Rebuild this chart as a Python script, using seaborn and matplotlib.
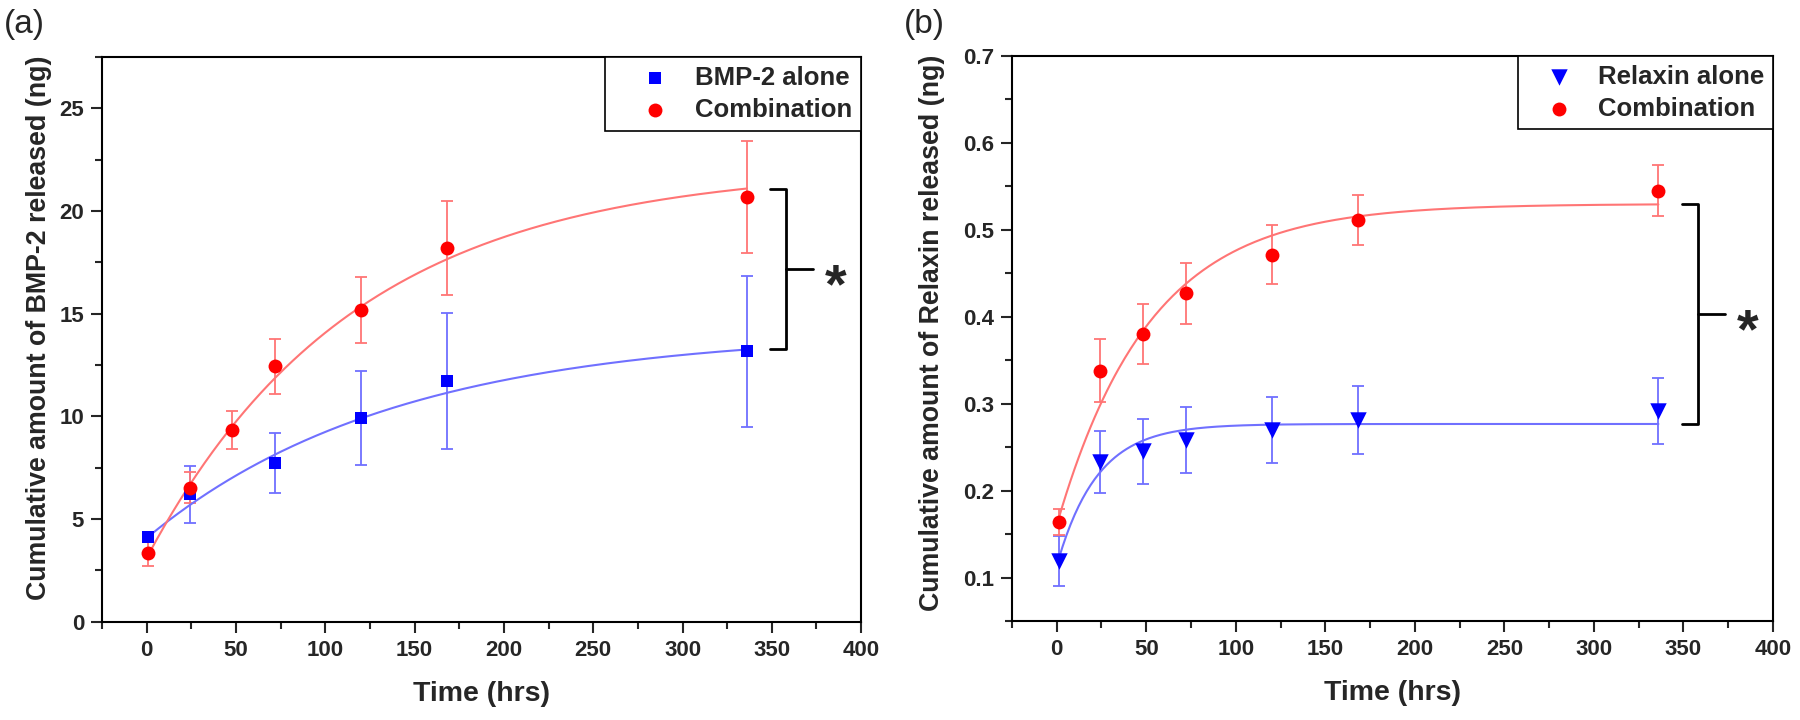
import matplotlib
matplotlib.use("Agg")
import matplotlib.pyplot as plt
from matplotlib.ticker import MultipleLocator
import pandas as pd
import seaborn as sns
import numpy as np

sns.set_style("ticks")
plt.rcParams['font.family'] = ['Liberation Sans', 'DejaVu Sans']

# ---- data ----
# (a) BMP-2
time_bmp_alone = [1, 24, 72, 120, 168, 336]
bmp_alone = [4.14, 6.2, 7.74, 9.93, 11.73, 13.17]
bmp_alone_sd = [0.25, 1.37, 1.45, 2.3, 3.3, 3.68]

time_bmp_comb = [1, 24, 48, 72, 120, 168, 336]
bmp_comb = [3.36, 6.52, 9.33, 12.44, 15.17, 18.2, 20.68]
bmp_comb_sd = [0.67, 0.75, 0.92, 1.35, 1.62, 2.3, 2.73]

# (b) Relaxin
time_rlx = [1, 24, 48, 72, 120, 168, 336]
rlx_alone = [0.119, 0.233, 0.245, 0.258, 0.270, 0.281, 0.292]
rlx_alone_sd = [0.029, 0.036, 0.037, 0.038, 0.038, 0.039, 0.038]
rlx_comb = [0.164, 0.338, 0.380, 0.427, 0.471, 0.511, 0.545]
rlx_comb_sd = [0.015, 0.036, 0.035, 0.035, 0.034, 0.029, 0.029]

RED = '#ff0000'
BLUE = '#0000ff'
RED_LIGHT = '#ff7575'
BLUE_LIGHT = '#7070ff'


def exp_fit(x, y, sd):
    # y = P - B*exp(-k x), weighted least squares, k by grid search
    x = np.asarray(x, float)
    y = np.asarray(y, float)
    w = 1.0 / np.asarray(sd, float)
    best = None
    for k in np.geomspace(1e-4, 0.5, 3000):
        A = np.column_stack([np.ones_like(x), -np.exp(-k * x)])
        coef, *_ = np.linalg.lstsq(A * w[:, None], y * w, rcond=None)
        sse = np.sum(((A @ coef - y) * w) ** 2)
        if best is None or sse < best[0]:
            best = (sse, coef, k)
    _, (P, B), k = best
    xs = np.linspace(x.min(), x.max(), 300)
    return pd.DataFrame({'t': xs, 'fit': P - B * np.exp(-k * xs)})


def series(ax, t, y, sd, label, marker, size, color, light):
    df = pd.DataFrame({'t': t, 'y': y, 'sd': sd})
    fit = exp_fit(t, y, sd)
    ax.errorbar(df['t'], df['y'], yerr=df['sd'], fmt='none', ecolor=light,
                elinewidth=1.3, capsize=4.5, capthick=1.3, zorder=2)
    sns.lineplot(ax=ax, data=fit, x='t', y='fit', color=light, lw=1.5,
                 zorder=3, legend=False)
    sns.scatterplot(ax=ax, data=df, x='t', y='y', marker=marker, s=size,
                    color=color, linewidth=0, zorder=4, label=label)
    return fit['fit'].iloc[-1]


def bracket(ax, top, bottom):
    mid = (top + bottom) / 2
    ax.plot([349, 358, 358, 349], [top, top, bottom, bottom], color='black',
            lw=2, solid_joinstyle='round', solid_capstyle='round', clip_on=False)
    ax.plot([358, 373], [mid, mid], color='black', lw=2, clip_on=False)
    ax.annotate('*', xy=(386, mid), xytext=(0, -24), textcoords='offset points',
                ha='center', va='baseline', fontsize=40, fontweight='bold')


def style(ax, ylabel, hl, htp):
    ax.set_xlim(-25, 400)
    ax.xaxis.set_major_locator(MultipleLocator(50))
    ax.xaxis.set_minor_locator(MultipleLocator(25))
    for s in ax.spines.values():
        s.set_linewidth(1.5)
        s.set_color('black')
    ax.tick_params(which='major', direction='out', length=8, width=1.5,
                   labelsize=16, pad=5)
    ax.tick_params(which='minor', direction='out', length=5, width=1.5)
    for lab in ax.get_xticklabels() + ax.get_yticklabels():
        lab.set_fontweight('bold')
    ax.set_xlabel('Time (hrs)', fontsize=20.5, fontweight='bold')
    ax.set_ylabel(ylabel, fontsize=19.3, fontweight='bold')
    ax.xaxis.set_label_coords(0.5, -0.105)
    leg = ax.legend(loc='upper right', borderaxespad=0, fancybox=False,
                    edgecolor='black', framealpha=1,
                    handlelength=hl, handletextpad=htp, borderpad=0.35,
                    labelspacing=0.3, prop={'weight': 'bold', 'size': 18.5})
    leg.get_frame().set_linewidth(1.2)


fig = plt.figure(figsize=(18, 7.2), dpi=100)
ax1 = fig.add_axes([0.0567, 0.1365, 0.4217, 0.7843])
ax2 = fig.add_axes([0.5622, 0.1375, 0.4228, 0.785])

# (a)
end_b = series(ax1, time_bmp_alone, bmp_alone, bmp_alone_sd, 'BMP-2 alone',
               's', 75, BLUE, BLUE_LIGHT)
end_c = series(ax1, time_bmp_comb, bmp_comb, bmp_comb_sd, 'Combination',
               'o', 100, RED, RED_LIGHT)
ax1.set_ylim(0, 27.5)
ax1.yaxis.set_major_locator(MultipleLocator(5))
ax1.yaxis.set_minor_locator(MultipleLocator(2.5))
style(ax1, 'Cumulative amount of BMP-2 released (ng)', 3.2, -0.05)
ax1.yaxis.set_label_coords(-0.066, 0.52)
bracket(ax1, end_c, end_b)

# (b)
end_r = series(ax2, time_rlx, rlx_alone, rlx_alone_sd, 'Relaxin alone',
               'v', 140, BLUE, BLUE_LIGHT)
end_rc = series(ax2, time_rlx, rlx_comb, rlx_comb_sd, 'Combination',
                'o', 100, RED, RED_LIGHT)
ax2.set_ylim(0.05, 0.7)
ax2.yaxis.set_major_locator(MultipleLocator(0.1))
ax2.yaxis.set_minor_locator(MultipleLocator(0.05))
style(ax2, 'Cumulative amount of Relaxin released (ng)', 2.5, 0.27)
ax2.yaxis.set_label_coords(-0.088, 0.51)
bracket(ax2, end_rc, end_r)

fig.text(0.002, 0.987, '(a)', fontsize=24, va='top', ha='left')
fig.text(0.502, 0.987, '(b)', fontsize=24, va='top', ha='left')

fig.savefig('out.png', dpi=100)
